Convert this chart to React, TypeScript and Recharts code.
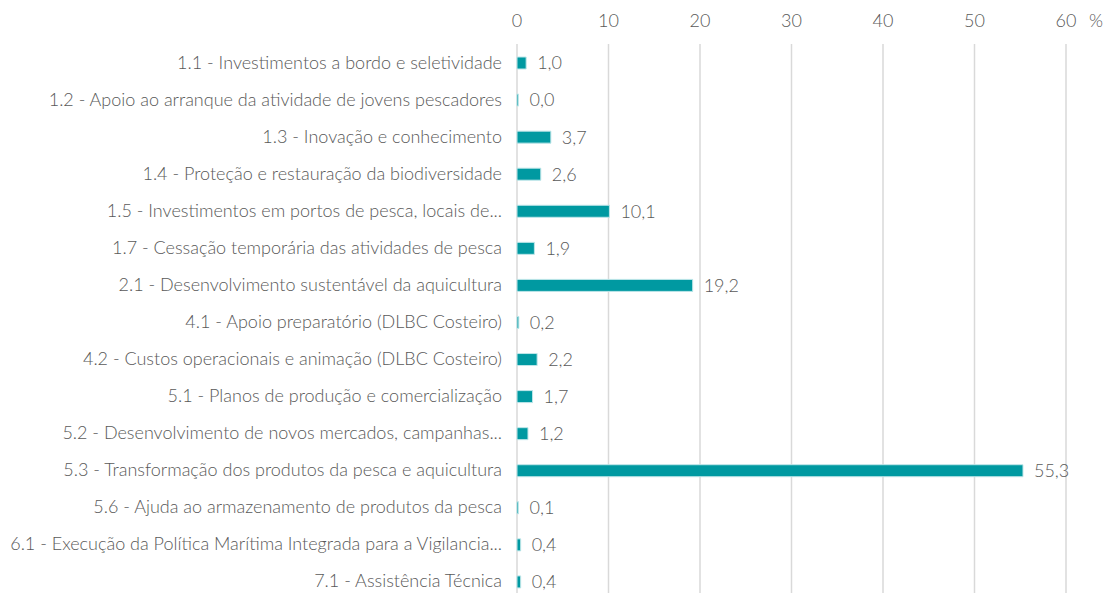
import { Bar, BarChart, CartesianGrid, LabelList, XAxis, YAxis } from "recharts";

const measures = [
  "1.1 - Investimentos a bordo e seletividade",
  "1.2 - Apoio ao arranque da atividade de jovens pescadores",
  "1.3 - Inovação e conhecimento",
  "1.4 - Proteção e restauração da biodiversidade",
  "1.5 - Investimentos em portos de pesca, locais de...",
  "1.7 - Cessação temporária das atividades de pesca",
  "2.1 - Desenvolvimento sustentável da aquicultura",
  "4.1 - Apoio preparatório (DLBC Costeiro)",
  "4.2 - Custos operacionais e animação (DLBC Costeiro)",
  "5.1 - Planos de produção e comercialização",
  "5.2 - Desenvolvimento de novos mercados, campanhas...",
  "5.3 - Transformação dos produtos da pesca e aquicultura",
  "5.6 - Ajuda ao armazenamento de produtos da pesca",
  "6.1 - Execução da Política Marítima Integrada para a Vigilancia...",
  "7.1 - Assistência Técnica",
];

const shares = [1.0, 0.02, 3.7, 2.6, 10.1, 1.9, 19.2, 0.2, 2.2, 1.7, 1.2, 55.3, 0.1, 0.4, 0.4];

const xTicks = [0, 10, 20, 30, 40, 50, 60];

const data = measures.map((name, i) => ({ name, value: shares[i] }));

const TEXT = "#595959";
const FONT = "Lato, 'Open Sans', sans-serif";
const FS = 18;

const fmt = (v: number) => v.toFixed(1).replace(".", ",");

function LeftTick({ x, y, payload }: any) {
  return (
    <text
      x={x + 6}
      y={y}
      dy={6}
      textAnchor="end"
      fill={TEXT}
      fontSize={FS}
      fontWeight={300}
      fontFamily={FONT}
    >
      {payload.value}
    </text>
  );
}

function TopTick({ x, payload }: any) {
  return (
    <text
      x={x}
      y={27}
      textAnchor="middle"
      fill={TEXT}
      fontSize={FS}
      fontWeight={300}
      fontFamily={FONT}
    >
      {payload.value}
    </text>
  );
}

export default function App() {
  return (
    <div style={{ position: "relative", width: 1104, height: 593, overflow: "hidden", background: "#fff" }}>
      <style>{`body{margin:0}`}</style>
      <BarChart
        width={1104}
        height={600}
        data={data}
        layout="vertical"
        margin={{ top: 0, right: 38, left: 0, bottom: 0 }}
        barCategoryGap={0}
      >
        <CartesianGrid horizontal={false} stroke="#d9d9d9" strokeWidth={1.5} />
        <XAxis
          type="number"
          orientation="top"
          domain={[0, 60]}
          ticks={xTicks}
          axisLine={false}
          tickLine={false}
          height={44}
          tick={<TopTick />}
          interval={0}
        />
        <YAxis
          type="category"
          dataKey="name"
          width={517}
          axisLine={false}
          tickLine={false}
          tick={<LeftTick />}
          interval={0}
          tickMargin={15}
        />
        <Bar
          dataKey="value"
          fill="#0099a1"
          stroke="#bfe6e9"
          strokeWidth={1}
          barSize={12}
          minPointSize={1.5}
          isAnimationActive={false}
        >
          <LabelList
            dataKey="value"
            position="right"
            offset={11}
            formatter={(v: any) => fmt(Number(v))}
            fill={TEXT}
            fontSize={FS}
            fontWeight={300}
            fontFamily={FONT}
          />
        </Bar>
      </BarChart>
      <span
        style={{
          position: "absolute",
          left: 1089,
          top: 9,
          color: TEXT,
          fontSize: FS,
          fontWeight: 300,
          fontFamily: FONT,
        }}
      >
        %
      </span>
    </div>
  );
}
